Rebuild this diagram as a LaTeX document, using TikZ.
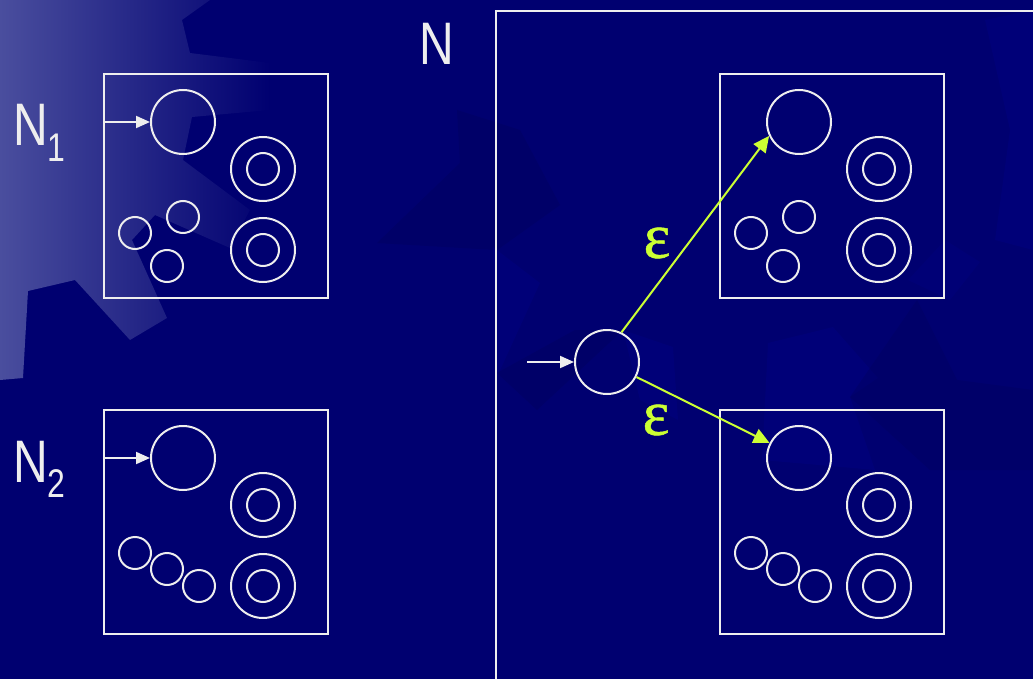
\documentclass[tikz,border=0pt]{standalone}
\usepackage{fontspec}
\setmainfont{Liberation Sans}
\newfontfamily\epsfont[FakeBold=0.8]{Liberation Serif}
\usepackage{tikz}
\usetikzlibrary{arrows.meta,calc}

\definecolor{bgnavy}{RGB}{0,0,112}
\definecolor{bgdark}{RGB}{0,0,92}
\definecolor{bglite}{RGB}{0,0,128}
\definecolor{gearlt}{RGB}{74,78,158}
\definecolor{epsgreen}{RGB}{204,255,51}
\definecolor{chalk}{RGB}{238,238,238}

\newcommand{\narrow}[1]{\scalebox{0.8}[1]{#1}}

\tikzset{
  box/.style={draw=chalk,line width=2pt,minimum size=224pt,inner sep=0pt,anchor=north west},
  st/.style={circle,draw=chalk,line width=2pt,minimum size=64pt,inner sep=0pt},
  sm/.style={circle,draw=chalk,line width=2pt,minimum size=32pt,inner sep=0pt},
  fin/.style={st,append after command={node[sm] at (\tikzlastnode) {}}},
  arr/.style={chalk,line width=2pt,-{Triangle[length=14pt,width=12pt]}},
  eps/.style={epsgreen,line width=2pt,-{Triangle[length=16pt,width=15pt]}},
  lab/.style={text=chalk,font=\fontsize{60}{60}\selectfont,inner sep=0pt},
  epslab/.style={text=epsgreen,font=\fontsize{64}{64}\selectfont\epsfont,inner sep=0pt}
}

\begin{document}
\begin{tikzpicture}[x=1pt,y=-1pt]
  \useasboundingbox (0,0) rectangle (1033,679);
  \clip (0,0) rectangle (1033,679);
  % background with faint gears
  \fill[bgnavy] (0,0) rectangle (1033,679);
  \shade[left color=gearlt,right color=bgnavy]
    (0,0)--(210,0)--(182,20)--(190,53)--(270,63)--(270,110)--(192,117)--(183,160)
    --(250,210)--(230,248)--(155,215)--(132,240)--(167,318)--(130,340)--(75,280)
    --(28,291)--(23,378)--(0,380)--cycle;
  \fill[bgdark,opacity=.4] (377,243)--(460,163)--(457,110)--(520,130)--(560,205)--(497,250)--cycle;
  \fill[bglite,opacity=.5] (493,247)--(540,283)--(497,377)--cycle;
  \fill[bgdark,opacity=.4] (497,373)--(575,330)--(623,330)--(537,410)--cycle;
  \fill[bglite,opacity=.5] (623,330)--(673,347)--(678,420)--(640,400)--cycle;
  \fill[bglite,opacity=.5] (768,343)--(833,327)--(878,378)--(850,397)--(875,470)--(762,460)--cycle;
  \fill[bgdark,opacity=.35] (850,397)--(917,300)--(957,380)--(1033,390)--(1033,470)--(930,470)--cycle;
  \fill[bglite,opacity=.5] (985,20)--(1033,10)--(1033,250)--(995,240)--(1010,130)--cycle;
  \fill[bglite,opacity=.4] (908,280)--(945,240)--(980,262)--(950,300)--cycle;

  % the four machines
  \foreach \b/\x/\y/\sml in {p/103/73/{32/160,80/144,64/193},
                            q/103/409/{32/144,64/160,96/177},
                            r/719/73/{32/160,80/144,64/193},
                            s/719/409/{32/144,64/160,96/177}} {
    \node[box] (\b) at (\x,\y) {};
    \node[st] (\b s) at (\x+80,\y+49) {};
    \node[fin] (\b f1) at (\x+160,\y+96) {};
    \node[fin] (\b f2) at (\x+160,\y+177) {};
    \foreach \u/\v [count=\i] in \sml
      \node[sm] (\b m\i) at (\x+\u,\y+\v) {};
  }
  \foreach \b in {p,q}
    \draw[arr] (\b.west |- \b s) -- (\b s);

  \node[lab,anchor=base west] (n1) at (13,146) {\narrow{N}\raisebox{-16pt}{\fontsize{40}{40}\selectfont\narrow{1}}};
  \node[lab,anchor=base west] (n2) at (13,482) {\narrow{N}\raisebox{-15pt}{\fontsize{40}{40}\selectfont\narrow{2}}};

  % the combined machine N
  \node[draw=chalk,line width=2pt,anchor=north west,minimum width=580pt,
        minimum height=700pt,inner sep=0pt] (nn) at (495,10) {};
  \node[lab] (nlab) at (437,44) {\narrow{N}};
  \node[st] (s0) at (607,362) {};
  \coordinate (s0in) at (527,362);
  \draw[arr] (s0in) -- (s0);
  \draw[eps] (s0.64) -- (rs.205);
  \draw[eps] (s0.-27) -- (ss.153);
  \node[epslab] (e1) at (657,243) {ε};
  \node[epslab] (e2) at (656,420) {ε};
\end{tikzpicture}
\end{document}
